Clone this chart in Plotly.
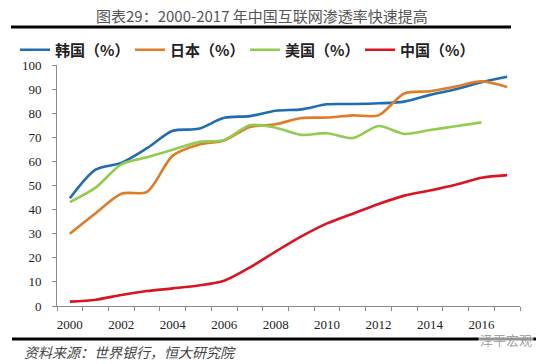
import plotly.graph_objects as go

years = list(range(2000, 2018))
korea = [44.7, 56.6, 59.4, 65.5, 72.7, 73.5, 78.1, 78.8, 81.0, 81.6, 83.7, 83.8, 84.1, 84.8, 87.6, 89.9, 92.8, 95.1]
japan = [30.0, 38.5, 46.6, 47.4, 62.4, 66.9, 68.7, 74.3, 75.4, 78.0, 78.2, 79.1, 79.1, 88.2, 89.1, 91.1, 93.2, 90.9]
usa = [43.1, 49.1, 58.8, 61.7, 64.8, 68.0, 68.9, 75.0, 74.0, 71.0, 71.7, 69.7, 74.7, 71.4, 73.0, 74.6, 76.2]
china = [1.8, 2.6, 4.6, 6.2, 7.3, 8.5, 10.5, 16.0, 22.6, 28.9, 34.3, 38.3, 42.3, 45.8, 47.9, 50.3, 53.2, 54.3]

series_names = ["韩国（%）", "日本（%）", "美国（%）", "中国（%）"]
series_values = [korea, japan, usa, china]
colors = ["#1F6DB1", "#E07B27", "#92CC4E", "#DA1420"]

title_text = "图表29：2000-2017 年中国互联网渗透率快速提高"
source_text = "资料来源：世界银行，恒大研究院"
watermark_text = "泽平宏观"

W, H = 550, 364
L, R, T, B = 57, 30, 65, 58

def px(x):
    return (x - L) / (W - L - R)

def py(y):
    return (H - B - y) / (H - T - B)

fig = go.Figure()
for name, vals, c in zip(series_names, series_values, colors):
    fig.add_trace(go.Scatter(
        x=years[:len(vals)], y=vals, name=name, mode="lines",
        line=dict(color=c, width=2.6, shape="spline", smoothing=0.8),
    ))

label_years = years[::2]
boundaries = [y - 0.5 for y in years] + [years[-1] + 0.5]

fig.update_layout(
    width=W, height=H,
    margin=dict(l=L, r=R, t=T, b=B, autoexpand=False),
    paper_bgcolor="white", plot_bgcolor="white",
    showlegend=True,
    legend=dict(
        orientation="h", xref="container", yref="container",
        x=15 / W, y=1 - 50 / H, xanchor="left", yanchor="middle",
        entrywidth=70, entrywidthmode="pixels",
        font=dict(family="Noto Sans CJK SC", size=15, color="#222", weight="bold"),
        bgcolor="rgba(0,0,0,0)", itemwidth=30,
    ),
    xaxis=dict(
        range=[years[0] - 0.5, years[-1] + 0.5],
        tickmode="array", tickvals=label_years, ticktext=[str(y) for y in label_years],
        ticks="", showgrid=False, zeroline=False,
        showline=True, linecolor="#8c8c8c", linewidth=1,
        tickfont=dict(family="Liberation Serif", size=13, color="#222"),
        ticklabelstandoff=6,
        minor=dict(tickmode="array", tickvals=boundaries, ticks="outside", ticklen=4,
                   tickcolor="#8c8c8c", showgrid=False),
    ),
    yaxis=dict(
        range=[0, 100], tickmode="linear", tick0=0, dtick=10,
        ticks="outside", ticklen=4, tickcolor="#8c8c8c",
        showgrid=False, zeroline=False,
        showline=True, linecolor="#8c8c8c", linewidth=1,
        tickfont=dict(family="Liberation Serif", size=13, color="#222"),
        ticklabelstandoff=8,
    ),
    annotations=[
        dict(text=title_text, xref="paper", yref="paper", x=px(262), y=py(15),
             xanchor="center", yanchor="middle", showarrow=False,
             font=dict(family="Noto Sans CJK SC", size=15, color="#555")),
        dict(text=source_text, xref="paper", yref="paper", x=px(22), y=py(352),
             xanchor="left", yanchor="middle", showarrow=False,
             font=dict(family="Noto Sans CJK SC", size=14, color="#444", style="italic")),
        dict(text=watermark_text, xref="paper", yref="paper", x=px(506), y=py(339),
             xanchor="center", yanchor="middle", showarrow=False,
             bgcolor="rgba(255,255,255,0.6)",
             font=dict(family="Noto Sans CJK SC", size=13, color="rgba(140,140,140,0.8)")),
    ],
    shapes=[
        dict(type="line", xref="paper", yref="paper", x0=px(11), x1=px(511), y0=py(27), y1=py(27),
             line=dict(color="black", width=3)),
        dict(type="line", xref="paper", yref="paper", x0=px(12), x1=px(536), y0=py(339), y1=py(339),
             line=dict(color="black", width=3)),
    ],
)

fig.write_html("out.html", config={"displayModeBar": False},
               post_script="document.body.style.margin='0px';")
